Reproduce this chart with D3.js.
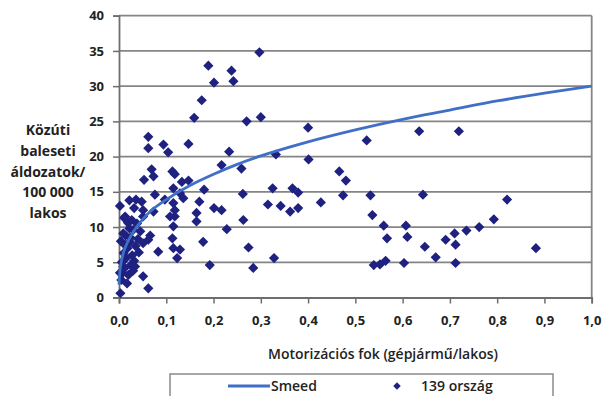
<!DOCTYPE html>
<html>
<head>
<meta charset="utf-8">
<script src="https://cdn.jsdelivr.net/npm/d3@7"></script>
<style>
  html, body { margin: 0; padding: 0; background: #fff; }
  svg { display: block; font-family: "Open Sans", "Noto Sans", sans-serif; }
</style>
</head>
<body>
<svg id="chart" width="604" height="396"></svg>
<script>
// Data
const xTicks = [0, 0.1, 0.2, 0.3, 0.4, 0.5, 0.6, 0.7, 0.8, 0.9, 1.0];
const yTicks = [0, 5, 10, 15, 20, 25, 30, 35, 40];

// 139 countries: motorization (vehicles/person), road deaths per 100 000
const countryX = [
  0.062, 0.062, 0.094, 0.104, 0.147, 0.189, 0.201, 0.175, 0.159, 0.238,
  0.242, 0.297, 0.270, 0.300, 0.233, 0.400, 0.524, 0.635, 0.719, 0.332,
  0.401, 0.217, 0.259, 0.069, 0.466, 0.113, 0.073, 0.053, 0.118, 0.133,
  0.147, 0.480, 0.180, 0.115, 0.129, 0.136, 0.097, 0.076, 0.115, 0.170,
  0.262, 0.315, 0.325, 0.367, 0.379, 0.474, 0.532, 0.643, 0.342, 0.362,
  0.379, 0.427, 0.536, 0.022, 0.036, 0.048, 0.002, 0.032, 0.051, 0.073,
  0.118, 0.164, 0.201, 0.217, 0.821, 0.118, 0.108, 0.164, 0.115, 0.263,
  0.228, 0.013, 0.051, 0.560, 0.607, 0.793, 0.762, 0.735, 0.710, 0.567,
  0.610, 0.066, 0.113, 0.178, 0.030, 0.009, 0.691, 0.647, 0.712, 0.670,
  0.712, 0.882, 0.328, 0.539, 0.552, 0.564, 0.603, 0.051, 0.115, 0.129,
  0.083, 0.274, 0.123, 0.192, 0.284, 0.051, 0.062, 0.003, 0.023, 0.062,
  0.005, 0.008, 0.012, 0.006, 0.015, 0.010, 0.020, 0.025, 0.018, 0.028,
  0.032, 0.035, 0.040, 0.004, 0.014, 0.022, 0.038, 0.027, 0.017, 0.030,
  0.042, 0.009, 0.024, 0.045, 0.002, 0.034, 0.012, 0.019, 0.011
];
const countryY = [
  22.8, 21.2, 21.7, 20.6, 21.8, 32.9, 30.5, 28.0, 25.5, 32.2,
  30.7, 34.8, 25.0, 25.6, 20.7, 24.1, 22.3, 23.6, 23.6, 20.3,
  19.6, 18.8, 18.3, 18.2, 17.9, 17.9, 17.2, 16.7, 17.5, 16.4,
  16.6, 16.6, 15.3, 15.5, 14.8, 14.1, 13.9, 14.6, 13.4, 13.6,
  14.7, 13.2, 15.5, 15.5, 14.9, 14.5, 14.5, 14.6, 13.0, 12.2,
  12.7, 13.5, 11.7, 13.8, 13.9, 13.6, 13.0, 12.7, 12.4, 12.2,
  12.4, 12.0, 12.7, 12.4, 13.9, 11.5, 11.5, 10.8, 10.1, 11.0,
  9.7, 11.5, 11.5, 10.2, 10.2, 11.1, 10.0, 9.5, 9.1, 8.4,
  8.6, 8.8, 8.4, 7.9, 9.6, 9.1, 8.2, 7.2, 7.5, 5.7,
  4.9, 7.0, 5.6, 4.6, 4.7, 5.2, 4.9, 7.7, 7.0, 6.8,
  6.5, 7.1, 5.6, 4.6, 4.2, 3.0, 1.3, 0.6, 7.9, 8.2,
  2.5, 3.5, 4.2, 5.0, 5.6, 6.3, 3.2, 4.6, 7.0, 6.0,
  5.2, 7.3, 8.3, 8.0, 8.8, 9.8, 10.5, 11.0, 2.0, 3.8,
  6.4, 4.4, 8.5, 9.4, 3.5, 4.4, 7.5, 10.6, 11.3
];

// Smeed curve
const smeedX = [0.0002, 0.0005, 0.002, 0.005, 0.01, 0.02, 0.03, 0.05, 0.075, 0.1,
                0.15, 0.2, 0.25, 0.3, 0.4, 0.5, 0.6, 0.7, 0.8, 0.9, 1.0];
const smeedY = [1.8, 2.4, 3.8, 5.1, 6.5, 8.1, 9.3, 11.1, 12.7, 13.9,
                15.9, 17.5, 18.9, 20.1, 22.1, 23.8, 25.3, 26.6, 27.9, 29.0, 30.0];

const yTitle = ["Közúti", "baleseti", "áldozatok/", "100 000", "lakos"];
const xTitle = "Motorizációs fok (gépjármű/lakos)";
const legendLine = "Smeed";
const legendDots = "139 ország";

const svg = d3.select("#chart");
const plotLeft = 119, plotRight = 591.7, plotTop = 15.7, plotBottom = 297.5;

const x = d3.scaleLinear().domain([0, 1]).range([plotLeft, plotRight]);
const y = d3.scaleLinear().domain([0, 40]).range([plotBottom, plotTop]);

const gridColor = "#858585";
const dotColor = "#1f2180";
const lineColor = "#3f6fc6";
const comma = d => d3.format(".1f")(d).replace(".", ",");

// Grid lines
svg.append("g")
  .selectAll("line")
  .data(yTicks.filter(d => d > 0))
  .enter()
  .append("line")
  .attr("x1", plotLeft).attr("x2", plotRight)
  .attr("y1", d => y(d)).attr("y2", d => y(d))
  .attr("stroke", gridColor)
  .attr("stroke-width", 1.8);

// Right border of the plot area
svg.append("line")
  .attr("x1", plotRight).attr("x2", plotRight)
  .attr("y1", plotTop).attr("y2", plotBottom)
  .attr("stroke", gridColor)
  .attr("stroke-width", 1.8);

// Axes
const yAxis = svg.append("g")
  .attr("transform", `translate(${plotLeft},0)`)
  .call(d3.axisLeft(y).tickValues(yTicks).tickSize(6).tickPadding(9).tickFormat(d3.format("d")));

const xAxis = svg.append("g")
  .attr("transform", `translate(0,${plotBottom})`)
  .call(d3.axisBottom(x).tickValues(xTicks).tickSize(6).tickPadding(12).tickFormat(comma));

[yAxis, xAxis].forEach(a => {
  a.select(".domain").attr("stroke", "#6e6e6e").attr("stroke-width", 1.8);
  a.selectAll(".tick line").attr("stroke", "#6e6e6e").attr("stroke-width", 1.5);
  a.selectAll("text")
    .attr("fill", "#222")
    .attr("font-family", "\"Open Sans\", sans-serif")
    .attr("font-weight", "bold")
    .attr("style", "font-size: 13px");
});

// Scatter points (diamonds)
const points = countryX.map((v, i) => ({ x: v, y: countryY[i] }));
const diamond = d3.symbol().type(d3.symbolSquare).size(52);
svg.append("g")
  .selectAll("path")
  .data(points)
  .enter()
  .append("path")
  .attr("d", diamond)
  .attr("transform", d => `translate(${x(d.x)},${y(d.y)}) rotate(45)`)
  .attr("fill", dotColor);

// Smeed curve
const smeed = smeedX.map((v, i) => ({ x: v, y: smeedY[i] }));
svg.append("path")
  .datum(smeed)
  .attr("fill", "none")
  .attr("stroke", lineColor)
  .attr("stroke-width", 2.8)
  .attr("d", d3.line().x(d => x(d.x)).y(d => y(d.y)).curve(d3.curveMonotoneX));

// Y axis title
svg.append("text")
  .attr("text-anchor", "middle")
  .attr("font-weight", "bold")
  .attr("font-size", 14)
  .attr("fill", "#222")
  .selectAll("tspan")
  .data(yTitle)
  .enter()
  .append("tspan")
  .attr("x", 48)
  .attr("y", (d, i) => 135 + i * 20.8)
  .text(d => d);

// X axis title
svg.append("text")
  .attr("x", 383).attr("y", 359)
  .attr("text-anchor", "middle")
  .attr("font-weight", 600)
  .attr("font-size", 14)
  .attr("fill", "#222")
  .text(xTitle);

// Legend
const legend = svg.append("g");
legend.append("rect")
  .attr("x", 170).attr("y", 374)
  .attr("width", 383).attr("height", 30)
  .attr("fill", "#fff")
  .attr("stroke", "#8a8a8a")
  .attr("stroke-width", 1.5);
legend.append("line")
  .attr("x1", 228).attr("x2", 270)
  .attr("y1", 386).attr("y2", 386)
  .attr("stroke", lineColor)
  .attr("stroke-width", 3);
legend.append("text")
  .attr("x", 271).attr("y", 391)
  .attr("font-weight", 600).attr("font-size", 14).attr("fill", "#222")
  .text(legendLine);
legend.append("path")
  .attr("d", d3.symbol().type(d3.symbolSquare).size(28))
  .attr("transform", "translate(397,386) rotate(45)")
  .attr("fill", dotColor);
legend.append("text")
  .attr("x", 421).attr("y", 391)
  .attr("font-weight", 600).attr("font-size", 14).attr("fill", "#222")
  .text(legendDots);
</script>
</body>
</html>
